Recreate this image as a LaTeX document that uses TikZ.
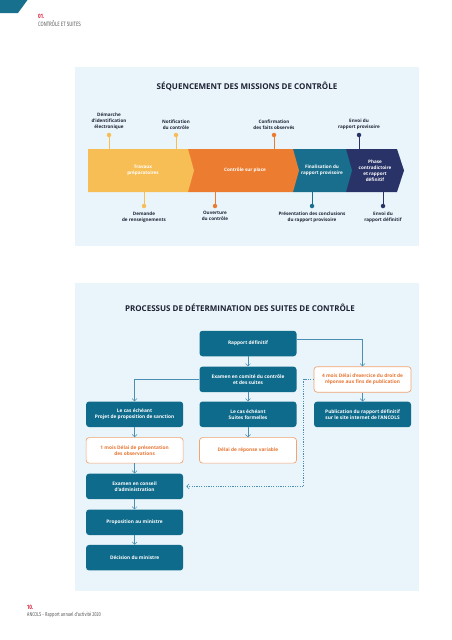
\documentclass[tikz,border=0pt]{standalone}
\usepackage{fontspec}
\setmainfont{Open Sans}
\newfontfamily\condfont[FakeStretch=0.72]{Fira Sans}
\usepackage{xcolor}
\usetikzlibrary{arrows.meta,positioning}
\definecolor{panel}{RGB}{233,245,251}
\definecolor{boxteal}{RGB}{15,107,139}
\definecolor{hdteal}{RGB}{22,112,142}
\definecolor{lineblue}{RGB}{74,143,178}
\definecolor{oranfill}{RGB}{236,124,48}
\definecolor{oranline}{RGB}{241,163,112}
\definecolor{orantext}{RGB}{232,118,52}
\definecolor{yel}{RGB}{248,190,86}
\definecolor{segteal}{RGB}{24,110,140}
\definecolor{navy}{RGB}{42,51,104}
\definecolor{inkdark}{RGB}{30,34,52}
\definecolor{redpage}{RGB}{215,35,60}
\definecolor{greytxt}{RGB}{90,90,90}

\begin{document}
\begin{tikzpicture}[x=1pt,y=-1pt,
  font=\bfseries\fontsize{4.6}{6}\selectfont,
  title/.style={text=inkdark,font=\bfseries\fontsize{8}{9}\selectfont},
  lbl/.style={align=center,text=inkdark,inner sep=0pt},
  dot/.style={circle,inner sep=0pt,minimum size=4.5pt},
  stem/.style={line width=0.8pt},
  segtxt/.style={align=center,text=white,inner sep=0pt},
  box/.style={fill=boxteal,text=white,rounded corners=3pt,minimum width=97pt,
              minimum height=25.5pt,align=center,inner sep=1pt,
              font=\bfseries\fontsize{4.8}{6.2}\selectfont},
  obox/.style={box,fill=white,draw=oranline,line width=0.7pt,text=orantext},
  arr/.style={draw=lineblue,line width=0.5pt,-{Straight Barb[length=2.5pt,width=5pt]}},
  dasharr/.style={arr,dash pattern=on 1.2pt off 1.2pt}]
\useasboundingbox (0,0) rectangle (452,640);

% ---- page header / footer ----
\fill[hdteal] (0,0) -- (27.5,0) -- (18,13) -- (0,13) -- cycle;
\node[anchor=base west,inner sep=0pt,text=redpage,
      font=\condfont\bfseries\fontsize{6.3}{7}\selectfont] (chapno) at (38,18) {01.};
\node[anchor=base west,inner sep=0pt,text=greytxt,
      font=\condfont\fontsize{6.3}{7}\selectfont] (chapname) at (38,26.5) {CONTRÔLE ET SUITES};
\node[anchor=base west,inner sep=0pt,text=redpage,
      font=\condfont\bfseries\fontsize{6.3}{7}\selectfont] (pageno) at (27,609) {10.};
\node[anchor=base west,inner sep=0pt,text=greytxt,
      font=\condfont\fontsize{5.6}{7}\selectfont] (pagename) at (27,616.5) {ANCOLS - Rapport annuel d'activité 2020};

% ---- panels ----
\fill[panel] (75,67) rectangle (419,246);
\fill[panel] (75,283) rectangle (419,591);

% ---- sequencement ----
\node[title] (seqtitle) at (247,86) {SÉQUENCEMENT DES MISSIONS DE CONTRÔLE};
\coordinate (bandT) at (0,149);
\coordinate (bandB) at (0,192);

\fill[navy] (346,149) -- (397,149) -- (404,170.5) -- (397,192) -- (346,192) -- cycle;
\fill[segteal] (293,149) -- (346,149) -- (352,170.5) -- (346,192) -- (293,192) -- cycle;
\fill[oranfill] (188,149) -- (293,149) -- (299,170.5) -- (293,192) -- (188,192) -- cycle;
\fill[yel] (88,149) -- (188,149) -- (194,170.5) -- (188,192) -- (88,192) -- cycle;

\node[segtxt] (seg1) at (143,170.5) {Travaux\\préparatoires};
\node[segtxt] (seg2) at (245,170.5) {Contrôle sur place};
\node[segtxt] (seg3) at (322,170.5) {Finalisation du\\rapport provisoire};
\node[segtxt] (seg4) at (375,170.5) {Phase\\contradictoire\\et rapport\\définitif};

% top milestones
\node[dot,fill=yel] (top1) at (109,135) {};
\node[dot,fill=yel] (top2) at (176,135) {};
\node[dot,fill=oranfill] (top3) at (274,135) {};
\node[dot,fill=navy] (top4) at (359,135) {};
\draw[stem,yel] (top1) -- (top1 |- bandT);
\draw[stem,yel] (top2) -- (top2 |- bandT);
\draw[stem,oranfill] (top3) -- (top3 |- bandT);
\draw[stem,navy] (top4) -- (top4 |- bandT);
\node[lbl,above=3pt of top1] (ltop1) {Démarche\\d'identification\\électronique};
\node[lbl,above=3pt of top2] (ltop2) {Notification\\du contrôle};
\node[lbl,above=3pt of top3] (ltop3) {Confirmation\\des faits observés};
\node[lbl,above=3pt of top4] (ltop4) {Envoi du\\rapport provisoire};

% bottom milestones
\node[dot,fill=yel] (bot1) at (144,206) {};
\node[dot,fill=oranfill] (bot2) at (215,206) {};
\node[dot,fill=segteal] (bot3) at (312,206) {};
\node[dot,fill=navy] (bot4) at (383,206) {};
\draw[stem,yel] (bot1) -- (bot1 |- bandB);
\draw[stem,oranfill] (bot2) -- (bot2 |- bandB);
\draw[stem,segteal] (bot3) -- (bot3 |- bandB);
\draw[stem,navy] (bot4) -- (bot4 |- bandB);
\node[lbl,below=3pt of bot1] (lbot1) {Demande\\de renseignements};
\node[lbl,below=3pt of bot2] (lbot2) {Ouverture\\du contrôle};
\node[lbl,below=3pt of bot3] (lbot3) {Présentation des conclusions\\du rapport provisoire};
\node[lbl,below=3pt of bot4] (lbot4) {Envoi du\\rapport définitif};

% ---- processus ----
\node[title] (proctitle) at (240,308) {PROCESSUS DE DÉTERMINATION DES SUITES DE CONTRÔLE};

\node[box] (rapport) at (248,343.5) {Rapport définitif};
\node[box,below=10pt of rapport] (comite) {Examen en comité du contrôle\\et des suites};
\node[obox,right=17pt of comite] (delai4) {4 mois Délai d'exercice du droit de\\réponse aux fins de publication};
\node[box,below=9pt of comite] (formelles) {Le cas échéant\\Suites formelles};
\node[box,left=16pt of formelles] (sanction) {Le cas échéant\\Projet de proposition de sanction};
\node[box,below=9pt of delai4] (publi) {Publication du rapport définitif\\sur le site internet de l'ANCOLS};
\node[obox,below=10pt of sanction] (delai1) {1 mois Délai de présentation\\des observations};
\node[obox,below=10pt of formelles] (delaiv) {Délai de réponse variable};
\node[box,below=10pt of delai1] (conseil) {Examen en conseil\\d'administration};
\node[box,below=10pt of conseil] (ministre) {Proposition au ministre};
\node[box,below=9.5pt of ministre] (decision) {Décision du ministre};

\draw[arr] (rapport) -- (comite);
\draw[arr] ([yshift=4pt]rapport.east) -| (delai4);
\draw[arr] (comite.west) -| (sanction);
\draw[arr] (comite) -- (formelles);
\draw[arr] (delai4) -- (publi);
\draw[arr] (formelles) -- (delaiv);
\draw[arr] (sanction) -- (delai1);
\draw[arr] (delai1) -- (conseil);
\draw[arr] (conseil) -- (ministre);
\draw[arr] (ministre) -- (decision);
\draw[dasharr] (delai4.west) -- ++(-10,0) |- ([xshift=3pt]conseil.east);
\end{tikzpicture}
\end{document}
